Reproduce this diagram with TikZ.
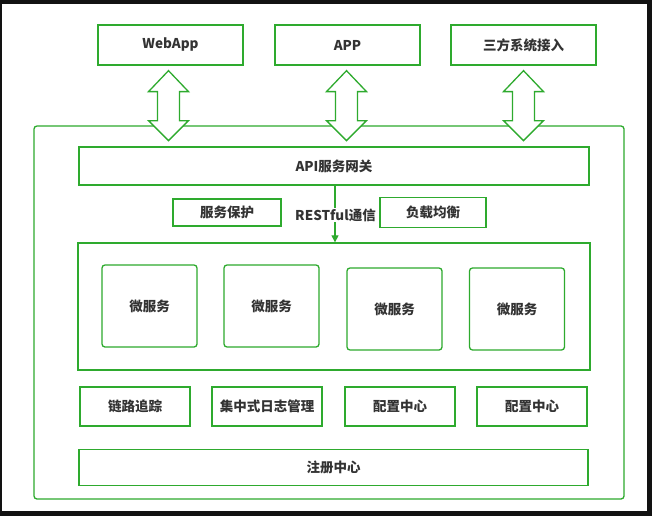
\documentclass[tikz,border=0pt]{standalone}
\usepackage{fontspec}
\setmainfont{Noto Sans CJK SC}
\usetikzlibrary{arrows.meta,calc}
\definecolor{gr}{RGB}{46,170,46}
\definecolor{tx}{RGB}{51,51,51}
\definecolor{frame}{RGB}{18,18,18}
\begin{document}
\begin{tikzpicture}[x=1pt,y=-1pt,
  lbl/.style={text=tx,font=\fontsize{13.5}{16}\selectfont\bfseries},
  box/.style={draw=gr,line width=1.3pt,fill=white,lbl,inner sep=0pt},
  sz/.style 2 args={minimum width=#1pt,minimum height=#2pt},
  rbox/.style={box,rounded corners=3pt},
  dbl/.style={draw=gr,line width=1.3pt,fill=white,line join=miter},
  flow/.style={draw=gr,line width=1.2pt,-{Triangle[length=7pt,width=7pt]}}
]
\fill[frame] (0,0) rectangle (652,516);
\fill[white] (2,4) rectangle (647,511);

% top clients
\node[box,sz={145}{40}] (web) at (170.5,45) {WebApp};
\node[box,sz={145}{40}] (app) at (347.5,45) {APP};
\node[box,sz={145}{40}] (third) at (523.5,45) {三方系统接入};

% outer platform
\node[rbox,sz={590}{373}] (outer) at (329,312.5) {};

% double arrows
\foreach \n/\dx in {web/-2,app/-1,third/0}{
  \draw[dbl] ($(\n.south)+(\dx,5)$) -- ++(20,21) -- ++(-9,0) -- ++(0,29) -- ++(9,0)
    -- ++(-20,20) -- ++(-20,-20) -- ++(9,0) -- ++(0,-29) -- ++(-9,0) -- cycle;
}

% gateway
\node[box,sz={510}{38}] (api) at (334,166) {API服务网关};
\node[box,sz={108}{27}] (prot) at (227,212.5) {服务保护};
\node[box,sz={106}{30}] (lb) at (433,212.5) {负载均衡};

% microservices
\node[box,sz={512}{127}] (ms) at (334,306.5) {};
\node[rbox,sz={95}{82}] (m1) at (149.5,306) {微服务};
\node[rbox,sz={95}{82}] (m2) at (271.5,306) {微服务};
\node[rbox,sz={95}{82}] (m3) at (394.5,309) {微服务};
\node[rbox,sz={95}{82}] (m4) at (517,309) {微服务};

\draw[flow] ($(api.south)+(1,0)$) coordinate (a0) -- (a0 |- ms.north);
\node[lbl,fill=white,inner sep=1pt] (rest) at (335.5,215) {RESTful通信};

% bottom row
\node[box,sz={110}{39}] (b1) at (135,406.5) {链路追踪};
\node[box,sz={110}{39}] (b2) at (267,406.5) {集中式日志管理};
\node[box,sz={110}{39}] (b3) at (400,406.5) {配置中心};
\node[box,sz={110}{39}] (b4) at (532,406.5) {配置中心};
\node[box,sz={509}{36}] (reg) at (333.5,467.5) {注册中心};
\end{tikzpicture}
\end{document}
